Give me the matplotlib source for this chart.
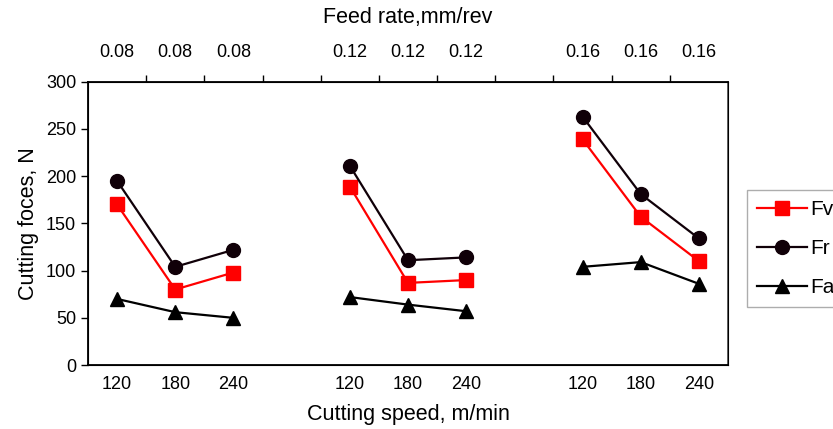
import numpy as np
import matplotlib
matplotlib.use('Agg')
import matplotlib.pyplot as plt

plt.rcParams['font.family'] = ['Liberation Sans', 'DejaVu Sans']

speeds = [120, 180, 240]
feeds = ['0.08', '0.12', '0.16']

# one row per feed rate, one value per cutting speed
fv = [[170, 80, 98], [189, 87, 90], [239, 157, 110]]
fr = [[195, 104, 122], [211, 111, 114], [263, 181, 134]]
fa = [[70, 56, 50], [72, 64, 57], [104, 109, 86]]

fig = plt.figure(figsize=(8.33, 4.29), dpi=100)
ax = fig.add_axes([0.1056, 0.149, 0.7684, 0.6606])

ncat = 4 * len(feeds) - 1
xlabels = []
xpos = []
for g in range(len(feeds)):
    x = [4 * g + j for j in range(len(speeds))]
    xpos += x
    xlabels += [str(s) for s in speeds]
    ax.plot(x, fv[g], color='#ff0000', marker='s', ms=9.5, lw=1.6,
            label='Fv' if g == 0 else None)
    ax.plot(x, fr[g], color='#100008', marker='o', ms=10, lw=1.6,
            label='Fr' if g == 0 else None)
    ax.plot(x, fa[g], color='black', marker='^', ms=9.5, lw=1.6,
            label='Fa' if g == 0 else None)

ax.set_xlim(-0.5, ncat - 0.5)
ax.set_ylim(0, 300)
ax.set_yticks(np.arange(0, 301, 50))
ax.set_xticks(xpos)
ax.set_xticklabels(xlabels)
ax.tick_params(axis='x', length=0, labelsize=13, pad=8)
ax.tick_params(axis='y', direction='out', length=5, labelsize=13, width=1)
for s in ax.spines.values():
    s.set_linewidth(1.3)
ax.spines['right'].set_color('#555555')
ax.set_xlabel('Cutting speed, m/min', fontsize=15.5, labelpad=8)
ax.set_ylabel('Cutting foces, N', fontsize=15.5, labelpad=5)

top = ax.twiny()
top.set_xlim(ax.get_xlim())
top.set_xticks(np.arange(0.5, ncat - 0.5, 1.0))
top.set_xticklabels([])
top.tick_params(axis='x', direction='out', length=5, width=1)
top.set_xticks(xpos, minor=True)
top.set_xticklabels([f for f in feeds for _ in speeds], minor=True)
top.tick_params(axis='x', which='minor', length=0, labelsize=13, pad=15)
top.set_xlabel('Feed rate,mm/rev', fontsize=15.5, labelpad=15)

leg = ax.legend(loc='upper left', bbox_to_anchor=(747 / 833, 1 - 190 / 429),
                bbox_transform=fig.transFigure, fontsize=15, frameon=True,
                fancybox=False, edgecolor='#999999', borderpad=0.5,
                borderaxespad=0, labelspacing=0.95, handlelength=2.4,
                handletextpad=0.15)
leg.get_frame().set_linewidth(1.0)

fig.savefig('out.png', dpi=100)
